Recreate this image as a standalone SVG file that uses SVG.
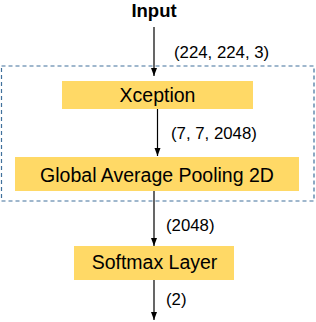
<svg xmlns="http://www.w3.org/2000/svg" width="316" height="322" viewBox="0 0 316 322">
<defs>
<marker id="arr" viewBox="0 0 8 8" refX="8" refY="4" markerWidth="8" markerHeight="8" markerUnits="userSpaceOnUse" orient="auto">
<path d="M0,1 L8,4 L0,7 Z" fill="#000"/>
</marker>
</defs>
<style>
.box{fill:#FFD966;}
.t{font-family:"Liberation Sans",Arial,sans-serif;font-size:19.5px;fill:#000;text-anchor:middle;}
.lb{font-family:"Liberation Sans",Arial,sans-serif;font-size:16.8px;fill:#000;}
.c{stroke:#000;stroke-width:1.2;fill:none;marker-end:url(#arr);}
</style>
<g id="group">
<rect x="1.5" y="66" width="312.5" height="135" fill="none" stroke="#41719C" stroke-width="1.2" stroke-dasharray="4,3"/>
</g>
<g id="input">
<text x="154" y="17" class="t" style="font-weight:bold;font-size:18.5px">Input</text>
</g>
<g id="xception">
<rect x="62" y="81" width="191" height="28" class="box"/>
<text x="157.5" y="102" class="t">Xception</text>
</g>
<g id="gap">
<rect x="15" y="157" width="284" height="34" class="box"/>
<text x="157" y="182" class="t">Global Average Pooling 2D</text>
</g>
<g id="softmax">
<rect x="74" y="246" width="160" height="34" class="box"/>
<text x="154.5" y="269" class="t">Softmax Layer</text>
</g>
<g id="connectors">
<line x1="154" y1="27" x2="154" y2="76" class="c"/>
<line x1="157.5" y1="109" x2="157.5" y2="156" class="c"/>
<line x1="154" y1="191" x2="154" y2="246" class="c"/>
<line x1="154" y1="280" x2="154" y2="320" class="c"/>
<text x="174" y="58" class="lb">(224, 224, 3)</text>
<text x="171" y="139" class="lb">(7, 7, 2048)</text>
<text x="166" y="231" class="lb">(2048)</text>
<text x="166" y="305" class="lb">(2)</text>
</g>
</svg>
